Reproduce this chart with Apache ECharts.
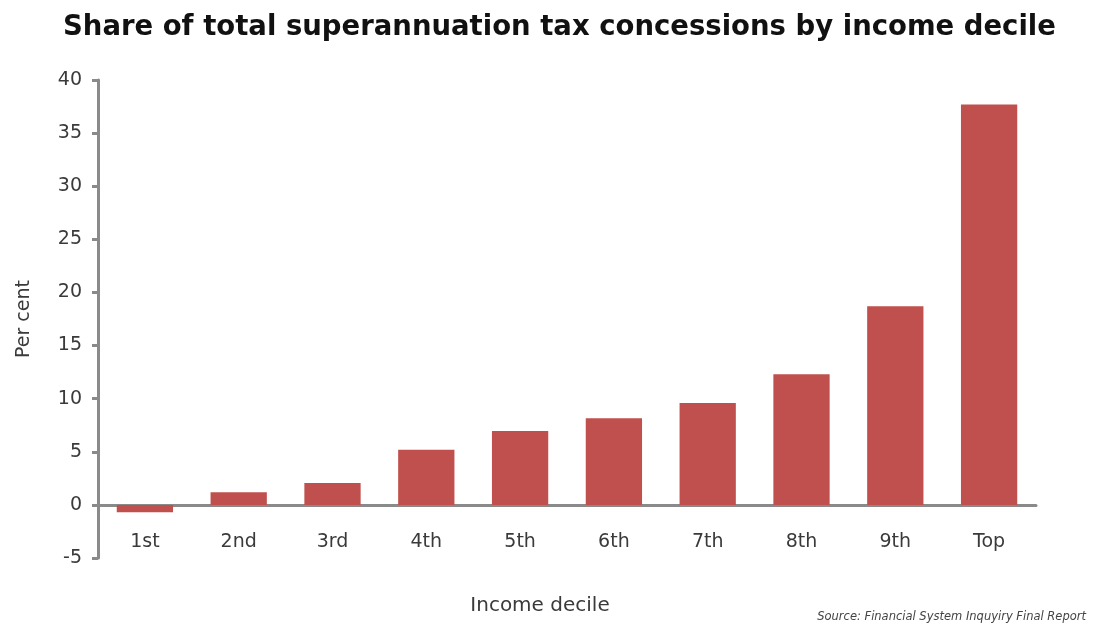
<!DOCTYPE html>
<html>
<head>
<meta charset="utf-8">
<script src="https://cdn.jsdelivr.net/npm/echarts@6/dist/echarts.min.js"></script>
<style>html,body{margin:0;padding:0;background:#fff;}#c{width:1094px;height:628px;}</style>
</head>
<body>
<div id="c"></div>
<script>
const categories = ['1st', '2nd', '3rd', '4th', '5th', '6th', '7th', '8th', '9th', 'Top'];
const shares = [-0.7, 1.2, 2.05, 5.2, 6.95, 8.15, 9.6, 12.3, 18.7, 37.7];
const titleText = 'Share of total superannuation tax concessions by income decile';
const sourceText = 'Source: Financial System Inquyiry Final Report';

const chart = echarts.init(document.getElementById('c'), null, {renderer: 'canvas'});
const axisGray = '#8a8a8a';
const labelFont = 'DejaVu Sans';
const labelColor = '#3a3a3a';
chart.setOption({
  animation: false,
  backgroundColor: '#ffffff',
  title: [
    {
      text: titleText, left: 58, top: 9,
      textStyle: {fontFamily: 'DejaVu Sans', fontWeight: 'bold', fontSize: 27.5, color: '#111'}
    },
    {
      text: sourceText, right: 3, bottom: 0,
      textStyle: {fontFamily: 'DejaVu Sans', fontStyle: 'italic', fontWeight: 'normal', fontSize: 11.5, color: '#444'}
    }
  ],
  grid: {left: 98, right: 58, top: 80, bottom: 70, containLabel: false, outerBoundsMode: 'none'},
  xAxis: {
    type: 'category',
    data: categories,
    name: 'Income decile',
    nameLocation: 'middle',
    nameGap: 38,
    nameTextStyle: {fontFamily: labelFont, fontSize: 20, color: labelColor, padding: [0, 54, 0, 0]},
    axisLine: {onZero: true, lineStyle: {color: axisGray, width: 3}},
    axisTick: {show: false},
    axisLabel: {fontFamily: labelFont, fontSize: 19, color: labelColor, margin: -25}
  },
  yAxis: {
    type: 'value',
    min: -5, max: 40, interval: 5,
    name: 'Per cent',
    nameLocation: 'middle',
    nameGap: 64,
    nameRotate: 90,
    nameTextStyle: {fontFamily: labelFont, fontSize: 19, color: labelColor},
    axisLine: {show: true, lineStyle: {color: axisGray, width: 3}},
    axisTick: {show: true, length: 6, lineStyle: {color: axisGray, width: 3}},
    splitLine: {show: false},
    axisLabel: {fontFamily: labelFont, fontSize: 19, color: labelColor, margin: 16}
  },
  series: [{
    type: 'bar',
    data: shares,
    barCategoryGap: '40%',
    itemStyle: {color: '#C0504D'}
  }]
});
</script>
</body>
</html>
